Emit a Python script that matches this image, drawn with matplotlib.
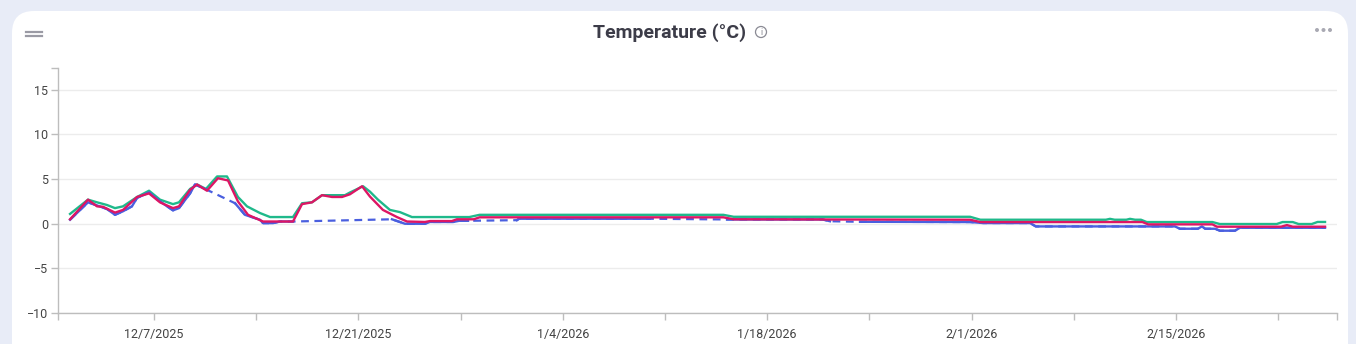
import numpy as np
import matplotlib
matplotlib.use("Agg")
import matplotlib.pyplot as plt
import matplotlib.dates as mdates
from matplotlib.patches import FancyBboxPatch, Ellipse
from matplotlib.lines import Line2D

plt.rcParams['font.family'] = ['Roboto', 'DejaVu Sans']

# ── Data (day offsets from 2025-12-01 00:00, temperature in °C) ──────────────
BASE = np.datetime64('2025-12-01T00:00')

green_days = [0.25, 1.48, 2.10, 2.78, 3.33, 3.88, 4.84, 5.66, 6.41, 7.30, 7.71,
              8.47, 8.95, 9.56, 10.32, 11.0, 11.75, 12.37, 13.26, 13.95, 15.52,
              16.14, 16.82, 17.51, 19.08, 19.42, 20.32, 20.79, 21.34, 22.16,
              22.85, 23.67, 27.6, 28.3, 45.0, 45.7, 61.9, 62.6, 71.2, 71.48,
              71.8, 72.6, 72.85, 73.2, 73.6, 74.0, 78.5, 79.0, 82.9, 83.3, 84.0,
              84.4, 85.3, 85.7, 86.21]
green_vals = [1.1, 2.7, 2.4, 2.1, 1.75, 1.95, 3.0, 3.7, 2.7, 2.2, 2.4,
              3.9, 4.4, 3.9, 5.3, 5.3, 3.0, 1.95, 1.2, 0.75, 0.75,
              2.3, 2.4, 3.2, 3.2, 3.5, 4.2, 3.6, 2.7, 1.55,
              1.3, 0.75, 0.75, 1.0, 1.0, 0.78, 0.78, 0.45, 0.45, 0.55,
              0.45, 0.45, 0.55, 0.45, 0.45, 0.19, 0.19, -0.03, -0.03, 0.19, 0.19,
              -0.03, -0.03, 0.2, 0.2]

# NaN marks a gap in the blue sensor record (bridged with a dashed line)
blue_days = [0.25, 1.48, 2.10, 2.78, 3.33, 3.88, 4.49, 4.84, 5.66, 6.41, 7.30,
             7.71, 8.47, 8.81, 9.63, 10.5, 11.55, 12.23, 13.26, 13.47, 14.15,
             14.63, 15.52, 19.0, 22.30, 23.19, 24.56, 24.9, 26.5, 26.9, 27.51,
             29.0, 30.86, 31.0, 39.97, 42.0, 45.25, 51.8, 52.3, 53.0, 54.36,
             61.9, 62.8, 66.0, 66.4, 75.93, 76.27, 77.5, 77.78, 78.0, 78.67,
             79.01, 80.04, 80.38, 86.21]
blue_vals = [0.45, 2.4, 2.05, 1.65, 1.0, 1.4, 1.95, 2.9, 3.5, 2.5, 1.5,
             1.75, 3.4, 4.4, 3.8, np.nan, 2.3, 1.0, 0.45, 0.07, 0.07,
             0.25, 0.25, np.nan, 0.5, 0.0, 0.0, 0.2, 0.2, 0.33, 0.33,
             np.nan, 0.4, 0.56, 0.56, np.nan, 0.48, 0.48, 0.28, np.nan, 0.22,
             0.19, 0.08, 0.08, -0.3, -0.3, -0.56, -0.56, -0.3, -0.56, -0.56,
             -0.78, -0.78, -0.45, -0.45]

red_days = [0.25, 1.48, 2.10, 2.51, 3.33, 3.88, 4.84, 5.66, 6.41, 7.30, 7.71,
            8.47, 8.95, 9.63, 10.38, 11.07, 11.75, 12.44, 13.47, 15.52, 16.14,
            16.82, 17.51, 18.19, 18.88, 19.42, 20.25, 20.79, 21.68, 22.64,
            23.33, 24.56, 24.9, 26.4, 26.75, 27.9, 28.3, 45.0, 45.7, 61.9, 62.6,
            73.7, 74.1, 78.5, 78.8, 83.2, 83.6, 84.0, 86.21]
red_vals = [0.5, 2.7, 1.95, 1.9, 1.25, 1.55, 3.0, 3.4, 2.4, 1.75, 1.95,
            3.8, 4.4, 3.7, 5.1, 4.85, 2.5, 1.0, 0.25, 0.25, 2.2,
            2.4, 3.2, 3.0, 3.0, 3.3, 4.2, 3.05, 1.55, 0.75,
            0.25, 0.2, 0.3, 0.3, 0.5, 0.5, 0.72, 0.72, 0.5, 0.45, 0.19,
            0.19, -0.07, -0.07, -0.33, -0.33, -0.15, -0.33, -0.33]

X_START, X_END = -0.575, 87.03
Y_MIN, Y_MAX = -10, 17.45
Y_TICKS = [-10, -5, 0, 5, 10, 15]

GREEN = "#1fb98b"
BLUE = "#4a5fdf"
RED = "#dd1664"


def to_dt(days):
    mins = np.round(np.asarray(days, dtype=float) * 24 * 60).astype('int64')
    return (BASE + mins.astype('timedelta64[m]')).astype('datetime64[ms]').astype(object)


# ── Figure / card ────────────────────────────────────────────────────────────
W, H = 1356, 344
fig = plt.figure(figsize=(W / 100, H / 100), dpi=100)
fig.patch.set_facecolor("#e8ecf7")
card = FancyBboxPatch((12 / W, -0.2), (1348 - 12) / W, (H - 11) / H + 0.2,
                      boxstyle=f"round,pad=0,rounding_size={22 / W}",
                      transform=fig.transFigure, facecolor="white",
                      edgecolor="none", mutation_aspect=W / H, zorder=-10)
fig.patches.append(card)

ax = fig.add_axes([58 / W, 1 - 313 / H, (1337 - 58) / W, (313 - 68) / H])
ax.set_facecolor("none")

# series
ax.plot(to_dt(green_days), green_vals, color=GREEN, lw=1.7, zorder=3)

bd = np.array(to_dt(blue_days))
bv = np.array(blue_vals)
ok = ~np.isnan(bv)
ax.plot(bd[ok], bv[ok], color=BLUE, lw=1.6, ls=(0, (3.5, 2.5)), zorder=3)
ax.plot(bd, bv, color=BLUE, lw=1.7, zorder=4)

ax.plot(to_dt(red_days), red_vals, color=RED, lw=1.7, zorder=5)

# axes styling
ax.set_xlim(to_dt([X_START])[0], to_dt([X_END])[0])
ax.set_ylim(Y_MIN, Y_MAX)
ax.set_yticks(Y_TICKS)
ax.set_yticks([Y_MAX], minor=True)
ax.grid(axis="y", color="#ececec", lw=1)
ax.set_axisbelow(True)

major = to_dt([6 + 14 * k for k in range(6)])
minor = to_dt([13 + 14 * k for k in range(6)] + [X_START, X_END])
ax.set_xticks(major)
ax.set_xticks(minor, minor=True)
ax.xaxis.set_major_formatter(
    plt.FuncFormatter(lambda v, p: (lambda d: f"{d.month}/{d.day}/{d.year}")(mdates.num2date(v))))

for s in ["top", "right"]:
    ax.spines[s].set_visible(False)
for s in ["left", "bottom"]:
    ax.spines[s].set_color("#bdbdbd")
    ax.spines[s].set_linewidth(1)

ax.tick_params(axis="both", which="both", color="#bdbdbd", length=5, width=1,
               labelsize=9, labelcolor="#444444")
ax.tick_params(axis="x", pad=6)
ax.tick_params(axis="y", pad=2)

# ── Header decorations ───────────────────────────────────────────────────────
fig.text(670 / W, 1 - 33 / H, "Temperature (°C)", ha="center", va="center",
         fontsize=14, fontweight="bold", color="#3c3c48")
fig.add_artist(Ellipse((761 / W, 1 - 32 / H), 11 / W, 11 / H,
                       transform=fig.transFigure, facecolor="none",
                       edgecolor="#8a8a94", lw=0.9))
fig.text(761 / W, 1 - 32.5 / H, "i", ha="center", va="center", fontsize=6.5,
         color="#8a8a94")

for yy in (32, 36):
    fig.add_artist(Line2D([26 / W, 42 / W], [1 - yy / H, 1 - yy / H],
                          transform=fig.transFigure, color="#9a9aa4", lw=1.6))
for xx in (1317, 1323.5, 1330):
    fig.add_artist(Ellipse((xx / W, 1 - 30 / H), 4 / W, 4 / H,
                           transform=fig.transFigure, facecolor="#a9a9b3",
                           edgecolor="none"))

fig.savefig("out.png", dpi=100, facecolor=fig.get_facecolor())
